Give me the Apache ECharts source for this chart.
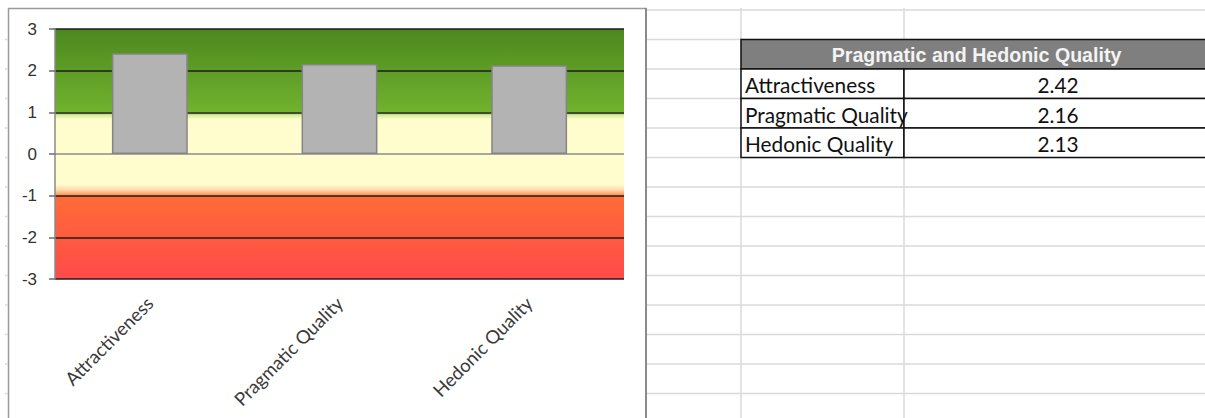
<!DOCTYPE html>
<html>
<head>
<meta charset="utf-8">
<script src="https://cdn.jsdelivr.net/npm/echarts@6/dist/echarts.min.js"></script>
<style>
  html, body { margin: 0; padding: 0; background: #ffffff; }
  #main { width: 1205px; height: 418px; }
</style>
</head>
<body>
<div id="main"></div>
<script>
// ---- data ----
const categories = ['Attractiveness', 'Pragmatic Quality', 'Hedonic Quality'];
const values = [2.42, 2.16, 2.13];
const tableTitle = 'Pragmatic and Hedonic Quality';
const yMin = -3, yMax = 3, yStep = 1;
// band limits (scale values)
const bandGood = [1, 3];
const bandNeutral = [-1, 1];
const bandBad = [-3, -1];

// ---- layout / styling ----
const chart = echarts.init(document.getElementById('main'), null, { renderer: 'svg' });
const G = echarts.graphic;

const gridColor = '#dadada';
const rowTop = 10, rowH = 29.5, rowCount = 14;
const colXs = [741, 904];
const tblL = 741, tblM = 904, tblR = 1212;
const hdrTop = 39.5, hdrBot = 69;

const graphics = [];
// chart frame
graphics.push({ type: 'rect', z: -10, silent: true,
  shape: { x: 8.5, y: 8.5, width: 637.5, height: 430 },
  style: { fill: '#ffffff', stroke: '#9a9a9a', lineWidth: 1.5 } });
graphics.push({ type: 'line', z: -9, silent: true,
  shape: { x1: 646, y1: 8, x2: 646, y2: 418 },
  style: { stroke: '#8a8a8a', lineWidth: 2 } });
// spreadsheet row lines
for (let k = 0; k < rowCount; k++) {
  const y = rowTop + rowH * k;
  graphics.push({ type: 'line', z: -9, silent: true,
    shape: { x1: 647, y1: y, x2: 1205, y2: y }, style: { stroke: gridColor, lineWidth: 1.5 } });
  if (k > 0) graphics.push({ type: 'line', z: -9, silent: true,
    shape: { x1: 5, y1: y, x2: 8, y2: y }, style: { stroke: gridColor, lineWidth: 1.5 } });
}
colXs.forEach(function (x) {
  graphics.push({ type: 'line', z: -9, silent: true,
    shape: { x1: x, y1: 8, x2: x, y2: 418 }, style: { stroke: gridColor, lineWidth: 1.5 } });
});
// table header
graphics.push({ type: 'rect', z: 5, silent: true,
  shape: { x: tblL, y: hdrTop, width: tblR - tblL, height: hdrBot - hdrTop },
  style: { fill: '#7f7f7f', stroke: '#111', lineWidth: 1.5 } });
graphics.push({ type: 'text', z: 6, silent: true,
  style: { x: (tblL + tblR) / 2, y: (hdrTop + hdrBot) / 2 + 1, text: tableTitle,
    fill: '#f4f4f4', font: 'bold 19.6px "Liberation Sans", Arial, sans-serif',
    align: 'center', verticalAlign: 'middle' } });
// table rows
categories.forEach(function (c, i) {
  const y0 = hdrBot + rowH * i;
  graphics.push({ type: 'rect', z: 5, silent: true,
    shape: { x: tblL, y: y0, width: tblM - tblL, height: rowH },
    style: { fill: '#ffffff', stroke: '#111', lineWidth: 1.5 } });
  graphics.push({ type: 'rect', z: 5, silent: true,
    shape: { x: tblM, y: y0, width: tblR - tblM, height: rowH },
    style: { fill: '#ffffff', stroke: '#111', lineWidth: 1.5 } });
  graphics.push({ type: 'text', z: 6, silent: true,
    style: { x: tblL + 4, y: y0 + rowH / 2 + 1, text: c, fill: '#111',
      font: '20.8px Lato, "Open Sans", sans-serif', align: 'left', verticalAlign: 'middle' } });
  graphics.push({ type: 'text', z: 6, silent: true,
    style: { x: (tblM + tblR) / 2, y: y0 + rowH / 2 + 1, text: values[i].toFixed(2), fill: '#111',
      font: '20.8px Lato, "Open Sans", sans-serif', align: 'center', verticalAlign: 'middle' } });
});

const black = '#1c1c1c';
const zeroGray = '#8a8a8a';
// split line colours per tick from min (-3..3); the zero line is the grey category axis
const splitColors = [];
for (let v = yMin; v <= yMax; v += yStep) splitColors.push(v === 0 ? zeroGray : black);

const option = {
  animation: false,
  backgroundColor: '#ffffff',
  graphic: graphics,
  grid: { left: 55, right: 581, top: 29, bottom: 139, containLabel: false, outerBoundsMode: 'none' },
  xAxis: [{
    type: 'category',
    data: categories,
    axisLine: { show: false, onZero: false },
    axisTick: { show: false },
    axisLabel: { rotate: 45, margin: 21, color: '#3a3a3a', fontSize: 18.5, fontFamily: 'Lato, "Open Sans", sans-serif', interval: 0 },
    splitLine: { show: false }
  }],
  yAxis: [{
    type: 'value',
    min: yMin, max: yMax, interval: yStep,
    z: 2,
    axisLine: { show: true, lineStyle: { color: '#8a8a8a', width: 1.5 } },
    axisTick: { show: true, length: 6, lineStyle: { color: '#6a6a6a', width: 1.5 } },
    axisLabel: { margin: 18, color: '#333333', fontSize: 17, fontFamily: '"Liberation Sans", Arial, sans-serif' },
    splitLine: { show: true, lineStyle: { color: splitColors, width: 1.5 } }
  }],
  series: [{
    type: 'bar',
    z: 3,
    data: values,
    barWidth: '40%',
    itemStyle: { color: '#b3b3b3', borderColor: '#858585', borderWidth: 1.5 },
    silent: true,
    markArea: {
      silent: true,
      z: 1,
      data: [
        [{ yAxis: bandGood[1], itemStyle: { color: new G.LinearGradient(0, 0, 0, 1, [
            { offset: 0, color: '#4c881f' }, { offset: 1, color: '#71b22e' }]) } },
         { yAxis: bandGood[0] }],
        [{ yAxis: bandNeutral[1], itemStyle: { color: new G.LinearGradient(0, 0, 0, 1, [
            { offset: 0, color: '#9cc853' }, { offset: 0.035, color: '#d6ea9a' },
            { offset: 0.08, color: '#fffdcd' }, { offset: 0.86, color: '#fffdcd' },
            { offset: 0.93, color: '#ffdcae' }, { offset: 1, color: '#ff8a4a' }]) } },
         { yAxis: bandNeutral[0] }],
        [{ yAxis: bandBad[1], itemStyle: { color: new G.LinearGradient(0, 0, 0, 1, [
            { offset: 0, color: '#ff6c36' }, { offset: 1, color: '#ff4a4a' }]) } },
         { yAxis: bandBad[0] }]
      ]
    }
  }]
};
chart.setOption(option);
</script>
</body>
</html>
